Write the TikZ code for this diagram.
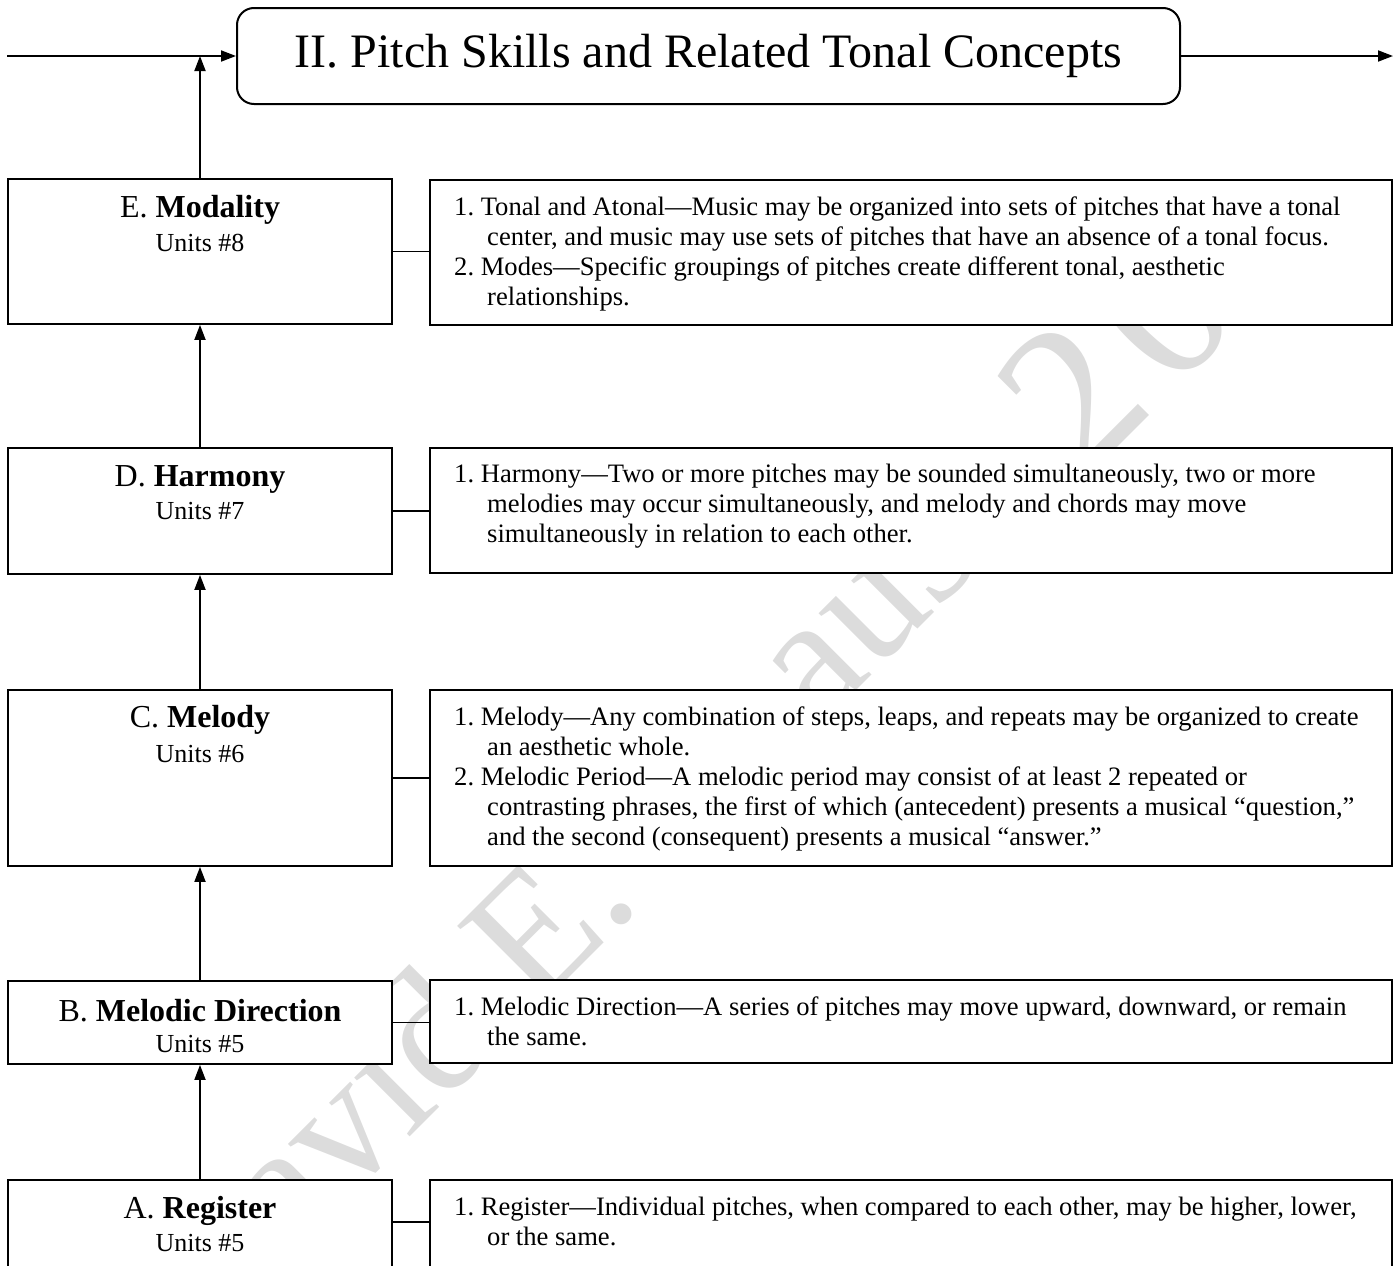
\documentclass[tikz,border=0pt]{standalone}
\usepackage{fontspec}
\setmainfont{Liberation Serif}
\usetikzlibrary{arrows.meta}
\definecolor{wmgray}{RGB}{220,220,220}
\frenchspacing
\begin{document}
\begin{tikzpicture}[x=1pt,y=-1pt,
  lbox/.style={draw, line width=1.8pt, fill=white, minimum width=384pt, inner sep=0pt},
  rbox/.style={draw, line width=1.6pt, fill=white, minimum width=962pt, inner sep=0pt},
  titlebox/.style={draw, line width=2pt, fill=white, rounded corners=17pt, minimum width=943pt, minimum height=96pt, inner sep=0pt, font=\fontsize{48}{56}\selectfont},
  head/.style={anchor=base, inner sep=0pt, font=\fontsize{32}{38}\selectfont},
  units/.style={anchor=base, inner sep=0pt, font=\fontsize{26}{30}\selectfont},
  body/.style={anchor=north west, inner sep=0pt, align=left, font=\fontsize{26.6}{30}\selectfont},
  arr/.style={line width=1.8pt, -{Triangle[length=15pt,width=11pt]}},
  conn/.style={line width=1.5pt},
  wmtext/.style={text=wmgray, inner sep=0pt, rotate=45, anchor=base west}
]
\useasboundingbox (0,0) rectangle (1398,1266);
\clip (0,0) rectangle (1398,1266);

% watermark fragments (behind the white boxes)
\node[wmtext, font=\fontsize{176}{190}\selectfont] (wm1) at (200,1347) {\phantom{D}avid E. \phantom{Str}auss};
\node[wmtext, font=\fontsize{210}{220}\selectfont] (wm2) at (1083,482) {2\kern20pt 0};

% title
\node[titlebox] (T) at (708.5,56) {II. Pitch Skills and Related Tonal Concepts};
\coordinate (Lin) at (7,56);
\coordinate (Rout) at (1393,56);

% left boxes
\node[lbox, minimum height=145pt] (E) at (200,251.5) {};
\node[lbox, minimum height=126pt] (D) at (200,511) {};
\node[lbox, minimum height=176pt] (C) at (200,778) {};
\node[lbox, minimum height=83pt]  (B) at (200,1022.5) {};
\node[lbox, minimum height=90pt]  (A) at (200,1225) {};

% right boxes
\node[rbox, minimum height=145pt] (Et) at (911,252.5) {};
\node[rbox, minimum height=125pt] (Dt) at (911,510.5) {};
\node[rbox, minimum height=176pt] (Ct) at (911,778) {};
\node[rbox, minimum height=83pt]  (Bt) at (911,1021.5) {};
\node[rbox, minimum height=90pt]  (At) at (911,1225) {};

% left labels
\node[head] (Eh) at (200,217) {E. \textbf{Modality}};
\node[units] (Eu) at (200,251) {Units \#8};
\node[head] (Dh) at (200,486) {D. \textbf{Harmony}};
\node[units] (Du) at (200,519) {Units \#7};
\node[head] (Ch) at (200,727) {C. \textbf{Melody}};
\node[units] (Cu) at (200,762) {Units \#6};
\node[head] (Bh) at (200,1021) {B. \textbf{Melodic Direction}};
\node[units] (Bu) at (200,1052) {Units \#5};
\node[head] (Ah) at (200,1218) {A. \textbf{Register}};
\node[units] (Au) at (200,1251) {Units \#5};

% right texts
\node[body] (Ex) at (454,194) {\rule{0pt}{21pt}1. Tonal and Atonal—Music may be organized into sets of pitches that have a tonal\\
\hspace*{33pt}center, and music may use sets of pitches that have an absence of a tonal focus.\\
2. Modes—Specific groupings of pitches create different tonal, aesthetic\\
\hspace*{33pt}relationships.};
\node[body] (Dx) at (454,461) {\rule{0pt}{21pt}1. Harmony—Two or more pitches may be sounded simultaneously, two or more\\
\hspace*{33pt}melodies may occur simultaneously, and melody and chords may move\\
\hspace*{33pt}simultaneously in relation to each other.};
\node[body] (Cx) at (454,704) {\rule{0pt}{21pt}1. Melody—Any combination of steps, leaps, and repeats may be organized to create\\
\hspace*{33pt}an aesthetic whole.\\
2. Melodic Period—A melodic period may consist of at least 2 repeated or\\
\hspace*{33pt}contrasting phrases, the first of which (antecedent) presents a musical “question,”\\
\hspace*{33pt}and the second (consequent) presents a musical “answer.”};
\node[body] (Bx) at (454,994) {\rule{0pt}{21pt}1. Melodic Direction—A series of pitches may move upward, downward, or remain\\
\hspace*{33pt}the same.};
\node[body] (Ax) at (454,1194) {\rule{0pt}{21pt}1. Register—Individual pitches, when compared to each other, may be higher, lower,\\
\hspace*{33pt}or the same.};

% connectors
\draw[arr] (Lin) -- (T.west);
\draw[arr] (T.east) -- (Rout);
\draw[arr] (E.north) -- (E.north |- T.west);
\draw[arr] (D.north) -- (E.south);
\draw[arr] (C.north) -- (D.south);
\draw[arr] (B.north) -- (C.south);
\draw[arr] (A.north) -- (B.south);
\draw[conn] (E.east) -- (E.east -| Et.west);
\draw[conn] (D.east) -- (D.east -| Dt.west);
\draw[conn] (C.east) -- (C.east -| Ct.west);
\draw[conn] (B.east) -- (B.east -| Bt.west);
\draw[conn] (At.west |- 0,1222) coordinate (Acw) -- (Acw -| A.east);
\end{tikzpicture}
\end{document}
